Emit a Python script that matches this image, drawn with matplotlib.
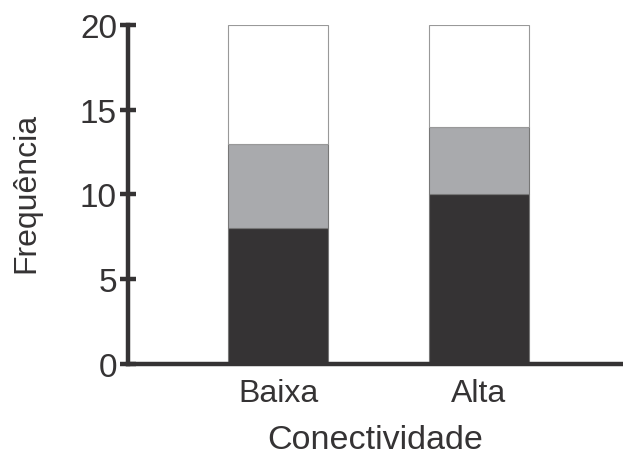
import numpy as np
import matplotlib.pyplot as plt

plt.rcParams['font.family'] = ['Liberation Sans', 'DejaVu Sans']

categorias = ['Baixa', 'Alta']
escuro = [8, 10]
cinza = [5, 4]
branco = [7, 6]

fig = plt.figure(figsize=(6.23, 4.56), dpi=100)
ax = fig.add_axes([0.2055, 0.2, 0.7945, 0.743])

x = np.arange(len(categorias))
w = 0.5
ax.bar(x, escuro, w, color='#353334', edgecolor='#777777', linewidth=0.8)
ax.bar(x, cinza, w, bottom=escuro, color='#a9aaad', edgecolor='#777777', linewidth=0.8)
base = np.array(escuro) + np.array(cinza)
ax.bar(x, branco, w, bottom=base, color='white', edgecolor='#999999', linewidth=0.8)

ax.set_xlim(-0.746, 1.716)
ax.set_ylim(0, 20)
ax.set_yticks([0, 5, 10, 15, 20])
ax.set_xticks(x)
ax.set_xticklabels(categorias)

for s in ['top', 'right']:
    ax.spines[s].set_visible(False)
for s in ['left', 'bottom']:
    ax.spines[s].set_linewidth(3.2)
    ax.spines[s].set_color('#353334')

ax.tick_params(axis='y', direction='inout', length=12, width=3.2, color='#353334',
               labelsize=24, labelcolor='#353334', pad=2)
ax.tick_params(axis='x', length=0, labelsize=23, labelcolor='#353334', pad=10)

ax.set_xlabel('Conectividade', fontsize=24.5, color='#353334', labelpad=12)
ax.set_ylabel('Frequência', fontsize=23, color='#353334')
ax.yaxis.set_label_coords(-0.176, 0.507)

fig.savefig('out.png', dpi=100)
